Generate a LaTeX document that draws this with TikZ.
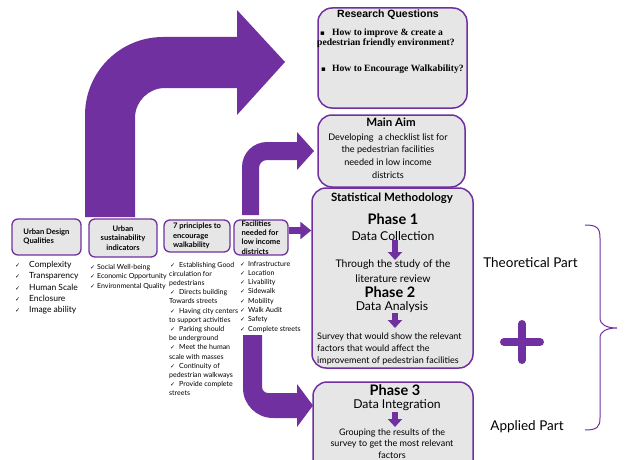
\documentclass[tikz,border=0pt]{standalone}
\usepackage{fontspec}
\setmainfont{Lato}
\newfontfamily\symfont{DejaVu Sans}
\newfontfamily\headfont{Liberation Sans}
\newfontfamily\qfont{Liberation Serif}
\usetikzlibrary{arrows.meta}
\definecolor{plum}{RGB}{112,48,160}
\definecolor{boxgray}{RGB}{231,230,230}
\newcommand{\fsz}[2]{\fontsize{#1}{#2}\selectfont}
\newcommand{\chk}{{\symfont\fsz{6}{6}✓}}
\newcommand{\chki}{\hspace{1pt}\chk\hspace{4pt}}

\begin{document}
\begin{tikzpicture}[x=1pt,y=-1pt,
  smallbox/.style={draw=plum,line width=1.3pt,fill=boxgray,rounded corners=6pt,inner sep=0pt,font=\bfseries\fsz{7.6}{9.3}},
  bigbox/.style={draw=plum,line width=1.5pt,fill=boxgray,rounded corners=14pt,inner sep=0pt},
  blockarrow/.style={fill=plum},
  downarr/.style={draw=plum,line width=6pt,-{Triangle[width=14pt,length=8pt]}},
  item/.style={anchor=base west,inner sep=0pt},
  phase/.style={font=\bfseries\fsz{14.5}{16},inner sep=0pt,anchor=base},
  phasesub/.style={font=\fsz{12.2}{14},inner sep=0pt,anchor=base}]

\useasboundingbox (0,0) rectangle (637,460);
\clip (0,0) rectangle (637,460);

% bent arrows
\fill[blockarrow] (85,217) -- (85,115) arc[start angle=180,end angle=270,radius=78] -- (237,37) -- (237,10)
  -- (285,62) -- (237,115) -- (237,88) -- (165,88) arc[start angle=270,end angle=180,radius=30] -- (135,217) -- cycle;
\fill[blockarrow] (242,215) -- (242,167) arc[start angle=180,end angle=270,radius=25] -- (297,142) -- (297,132)
  -- (314,151) -- (297,170) -- (297,160) -- (267,160) arc[start angle=270,end angle=180,radius=8] -- (259,215) -- cycle;
\fill[blockarrow] (243,335) -- (243,388) arc[start angle=180,end angle=90,radius=30] -- (297,418) -- (297,427)
  -- (313,405.5) -- (297,384) -- (297,393) -- (268,393) arc[start angle=90,end angle=180,radius=6] -- (262,335) -- cycle;

% small boxes
\node[smallbox,minimum width=69pt,minimum height=36pt,align=left] (udq) at (46.5,237) {Urban Design\\Qualities};
\node[smallbox,minimum width=68pt,minimum height=38pt,align=center] (usi) at (123,238) {Urban\\sustainability\\indicators};
\node[smallbox,minimum width=66pt,minimum height=32pt,align=left] (prin) at (197,236) {7 principles to\\encourage\\walkability};
\node[smallbox,minimum width=54pt,minimum height=35pt,align=left] (fac) at (261,237.5) {Facilities\\needed for\\low income\\districts};

% right boxes
\node[bigbox,minimum width=149pt,minimum height=100pt] (rq) at (392.5,58) {};
\node[bigbox,minimum width=147pt,minimum height=72pt] (aim) at (391.5,151) {};
\node[bigbox,minimum width=161pt,minimum height=180pt] (stat) at (392.5,278) {};
\node[bigbox,minimum width=160pt,minimum height=96pt] (ph3box) at (393,430) {};

\draw[plum,line width=7pt,-{Triangle[width=17pt,length=11pt]}] ([yshift=7pt]fac.east) -- ([yshift=7pt]fac.east -| stat.west);

% lists
\foreach \t [count=\i] in {Complexity,Transparency,Human Scale,Enclosure,Image ability}
  \node[item,font=\fsz{8.5}{10}] (udq-\i) at (15,256.2+11.3*\i) {\makebox[14pt][l]{\chk}\t};
\foreach \t [count=\i] in {Social Well-being,Economic Opportunity,Environmental Quality}
  \node[item,font=\fsz{7}{8}] (usi-\i) at (90,259.5+9.5*\i) {\makebox[7pt][l]{\chk}\t};
\foreach \t [count=\i] in {\chki Establishing Good,circulation for,pedestrians,\chki Directs building,Towards streets,
    \chki Having city centers,to support activities,\chki Parking should,be underground,\chki Meet the human,
    scale with masses,\chki Continuity of,pedestrian walkways,\chki Provide complete,streets}
  \node[item,font=\fsz{7}{8}] (prin-\i) at (169,257.8+9.2*\i) {\t};
\foreach \t [count=\i] in {Infrastructure,Location,Livability,Sidewalk,Mobility,Walk Audit,Safety,Complete streets}
  \node[item,font=\fsz{7}{8}] (fac-\i) at (240,256.7+9.3*\i) {\makebox[8pt][l]{\chk}\t};

% research questions
\node[font=\headfont\bfseries\fsz{10.5}{12},inner sep=0pt] (rqtitle) at (388,15) {Research Questions};
\node[item,font=\symfont\fsz{7}{8}] (b1) at (320,35.5) {▪};
\node[item,font=\qfont\bfseries\fsz{9.6}{11}] (q1) at (332,35.5) {How to improve \& create a};
\node[item,font=\qfont\bfseries\fsz{9.6}{11}] (q1b) at (317,46) {pedestrian friendly environment?};
\node[item,font=\symfont\fsz{7}{8}] (b2) at (321,71) {▪};
\node[item,font=\qfont\bfseries\fsz{9.6}{11}] (q2) at (332,71) {How to Encourage Walkability?};

% main aim
\node[font=\bfseries\fsz{11.5}{13},inner sep=0pt] (aimtitle) at (391,122) {Main Aim};
\node[font=\fsz{9.1}{12.7},align=center,inner sep=0pt] (aimtext) at (388,156)
  {Developing\ \ a checklist list for\\the pedestrian facilities\\needed in low income\\districts};

% methodology
\node[font=\bfseries\fsz{11.5}{13},inner sep=0pt] (stattitle) at (392,198) {Statistical Methodology};
\node[phase] (ph1) at (393,224.5) {Phase 1};
\node[phasesub] (dc) at (393,240) {Data Collection};
\node[font=\fsz{10.5}{14.7},align=center,inner sep=0pt] (lit) at (393,271.5) {Through the study of the\\literature review};
\node[phase] (ph2) at (390,297.5) {Phase 2};
\node[phasesub] (da) at (392,310) {Data Analysis};
\node[font=\fsz{9}{12},align=left,inner sep=0pt,anchor=west] (survey) at (317,348.5)
  {Survey that would show the relevant\\factors that would affect the\\improvement of pedestrian facilities};
\draw[downarr] ([xshift=2pt]dc.base) -- ++(0,20);
\draw[downarr] ([xshift=3pt,yshift=-3pt]da.base) -- ++(0,15);

% phase 3
\node[phase] (ph3) at (395,395) {Phase 3};
\node[phasesub] (di) at (397,408) {Data Integration};
\node[font=\fsz{9}{11.5},align=center,inner sep=0pt] (group) at (392,443.5)
  {Grouping the results of the\\survey to get the most relevant\\factors};
\draw[downarr] ([xshift=-2pt,yshift=-4pt]di.base) -- ++(0,15);

% parts
\node[font=\fsz{13.5}{15},inner sep=0pt] (theory) at (530.5,263) {Theoretical Part};
\node[font=\fsz{13.5}{15},inner sep=0pt] (applied) at (527,427) {Applied Part};
\draw[plum,line width=8pt,line cap=round] (504,342) -- (540,342) (522,324) -- (522,360);
\draw[plum,line width=1pt] (585,225) .. controls (597,225) and (600,228) .. (600,238) -- (600,318)
  .. controls (600,325) and (607,328) .. (617,328) .. controls (607,328) and (600,331) .. (600,338)
  -- (600,418) .. controls (600,427) and (597,430) .. (585,430);
\end{tikzpicture}
\end{document}
